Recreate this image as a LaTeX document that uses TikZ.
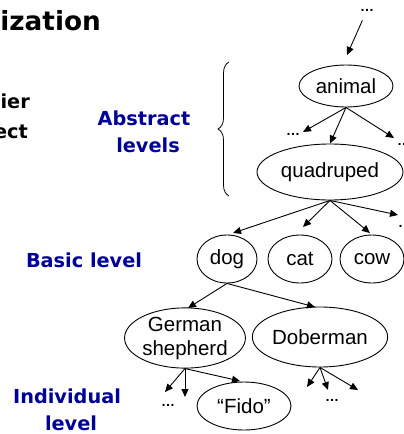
\documentclass[tikz,border=0pt]{standalone}
\usepackage{fontspec}
\setmainfont{Liberation Sans}
\newfontfamily\lblfont{DejaVu Sans}
\usetikzlibrary{arrows.meta,shapes.geometric,decorations.pathreplacing}
\definecolor{lblblue}{RGB}{0,0,153}
\begin{document}
\begin{tikzpicture}[x=1pt,y=-1pt,
  concept/.style={ellipse,draw,line width=0.9pt,inner sep=0pt,align=center,font=\fontsize{20.5}{24}\selectfont},
  arr/.style={line width=0.9pt,-{Triangle[length=8pt,width=7pt]}},
  dots/.style={inner sep=0pt,font=\bfseries\fontsize{14}{14}\selectfont},
  lbl/.style={inner sep=0pt,font=\lblfont\bfseries\fontsize{19.3}{23}\selectfont,text=lblblue},
  blk/.style={inner sep=0pt,font=\lblfont\bfseries\fontsize{19.3}{23}\selectfont},
]
\useasboundingbox (0,0) rectangle (404,434);
\begin{scope}
\clip (0,0) rectangle (404,434);
% cropped slide text
\node[inner sep=0pt,font=\lblfont\bfseries\fontsize{26.3}{30}\selectfont,anchor=base east] (title) at (101,30) {ization};
\node[blk,anchor=base east] (t1) at (30,108) {ier};
\node[blk,anchor=base east] (t2) at (28,138) {ect};
% level labels
\node[lbl,anchor=base] (abs1) at (144,125) {Abstract};
\node[lbl,anchor=base] (abs2) at (148,152) {levels};
\node[lbl,anchor=base] (basic) at (84,267) {Basic level};
\node[lbl,anchor=base] (ind1) at (67,403) {Individual};
\node[lbl,anchor=base] (ind2) at (71,430) {level};
% brace
\draw[decorate,decoration={brace,amplitude=11pt},line width=0.8pt] (229,196) -- (229,62);
% concept nodes
\node[concept,minimum width=94pt,minimum height=42pt] (animal) at (346,86) {animal};
\node[concept,minimum width=146pt,minimum height=56pt] (quad) at (330,172) {quadruped};
\node[concept,minimum width=60pt,minimum height=48pt] (dog) at (227,259) {dog};
\node[concept,minimum width=64pt,minimum height=48pt] (cat) at (300,259) {cat};
\node[concept,minimum width=64pt,minimum height=48pt] (cow) at (372,259) {cow};
\node[concept,minimum width=114pt,minimum height=60pt] (gs) at (185,338) {German\\shepherd};
\node[concept,minimum width=110pt,minimum height=60pt] (dob) at (320,337) {Doberman};
\node[concept,minimum width=94pt,minimum height=48pt] (fido) at (244,406) {“Fido”};
% dots
\node[dots] (d0) at (367,10) {…};
\node[dots] (d1) at (293,134) {…};
\node[dots,anchor=west] (d2) at (397,144) {…};
\node[dots,anchor=west] (d3) at (398,226) {…};
\node[dots] (d4) at (168,405) {…};
\node[dots] (d5) at (332,400) {…};
% arrow tips
\coordinate (c0) at (347,55);
\coordinate (c1) at (303,132);
\coordinate (c2) at (394,138);
\coordinate (c3) at (233,233);
\coordinate (c4) at (303,227);
\coordinate (c5) at (370,233);
\coordinate (c6) at (398,215);
\coordinate (c7) at (188,308);
\coordinate (c8) at (315,307);
\coordinate (c9) at (165,392);
\coordinate (c10) at (185,397);
\coordinate (c11) at (240,381);
\coordinate (c12) at (307,387);
\coordinate (c13) at (328,390);
\coordinate (c14) at (358,390);
% arrows
\draw[arr,shorten <=10pt] (d0) -- (c0);
\draw[arr] (animal.south) -- (c1);
\draw[arr] (animal.south) -- (quad.north);
\draw[arr] (animal.south) -- (c2);
\draw[arr] (quad.south) -- (c3);
\draw[arr] (quad.south) -- (c4);
\draw[arr] (quad.south) -- (c5);
\draw[arr] (quad.south) -- (c6);
\draw[arr] (dog.south) -- (c7);
\draw[arr] (dog.south) -- (c8);
\draw[arr] (gs.south) -- (c9);
\draw[arr] (gs.south) -- (c10);
\draw[arr] (gs.south) -- (c11);
\draw[arr] (dob.south) -- (c12);
\draw[arr] (dob.south) -- (c13);
\draw[arr] (dob.south) -- (c14);
\end{scope}
\end{tikzpicture}
\end{document}
